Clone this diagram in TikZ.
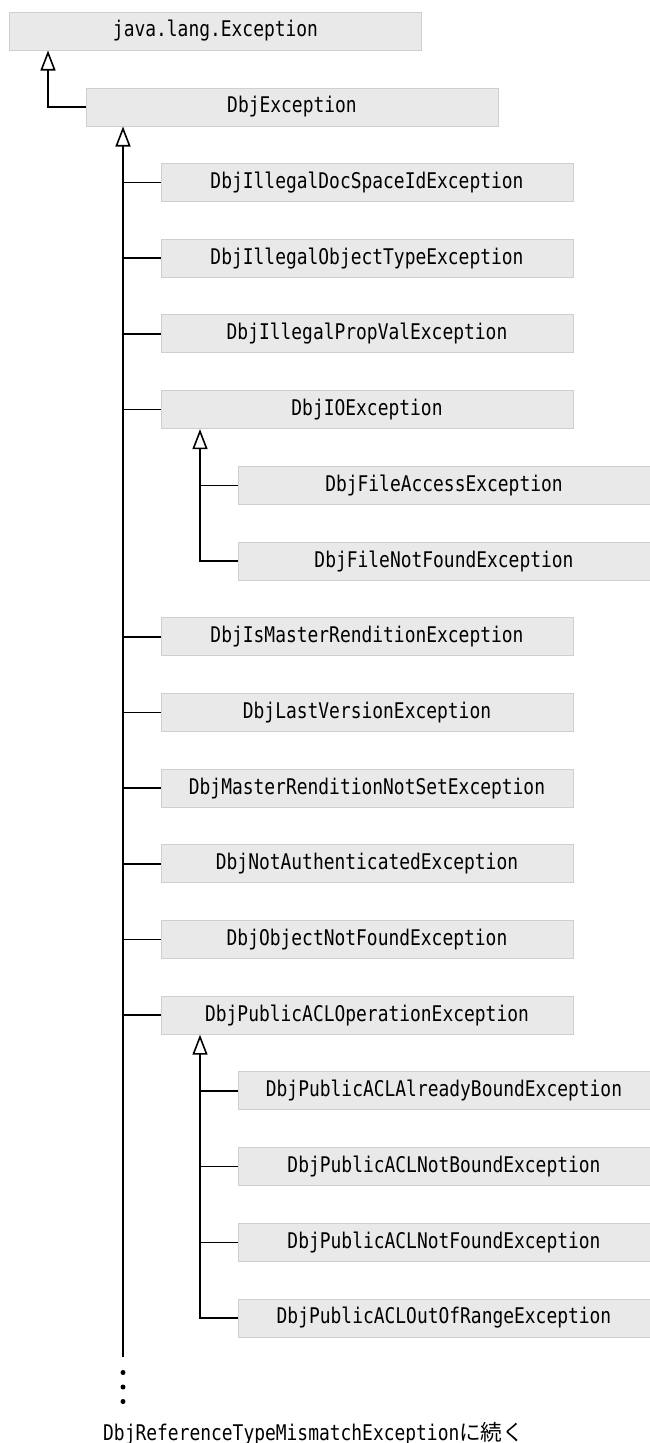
\documentclass[tikz,border=0pt]{standalone}
\usepackage{fontspec}
\newfontfamily\boxfont[FakeStretch=0.83]{DejaVu Sans Mono}
\newfontfamily\jpfont{Noto Sans CJK JP}
\definecolor{boxgray}{HTML}{E9E9E9}
\definecolor{boxline}{HTML}{CFCFCF}
\usetikzlibrary{arrows.meta, positioning}
\tikzset{
	classbox/.style={draw=boxline, fill=boxgray, line width=1pt,
			minimum width=412pt, minimum height=38pt, inner sep=0pt,
			font=\boxfont\fontsize{21.6pt}{24pt}\selectfont}
}
\tikzset{
	inherit/.style={line width=1.6pt, -{Triangle[open, length=20pt, width=15pt]}}
}
\tikzset{
	branch/.style={line width=1.6pt}
}

\begin{document}
\begin{tikzpicture}[x=1pt, y=-1pt]

	\useasboundingbox (0,0) rectangle (649,1443);

	\begin{scope}
		\node[classbox] (jexc) at (215.5,31) {java.lang.Exception};
		\node[classbox] (dbjexc) at (292,107) {DbjException};
	\end{scope}

	\begin{scope}
		\node[classbox] (idsi) at (367,182.5) {DbjIllegalDocSpaceIdException};
		\node[classbox] (iot) at (367,258.2) {DbjIllegalObjectTypeException};
		\node[classbox] (ipv) at (367,333.9) {DbjIllegalPropValException};
		\node[classbox] (ioexc) at (367,409.6) {DbjIOException};
		\node[classbox] (fae) at (444,485.3) {DbjFileAccessException};
		\node[classbox] (fnf) at (444,561) {DbjFileNotFoundException};
		\node[classbox] (imr) at (367,636.7) {DbjIsMasterRenditionException};
		\node[classbox] (lver) at (367,712.4) {DbjLastVersionException};
		\node[classbox] (mrns) at (367,788.1) {DbjMasterRenditionNotSetException};
		\node[classbox] (nauth) at (367,863.8) {DbjNotAuthenticatedException};
		\node[classbox] (onf) at (367,939.5) {DbjObjectNotFoundException};
		\node[classbox] (pacl) at (367,1015.2) {DbjPublicACLOperationException};
		\node[classbox] (paab) at (444,1090.9) {DbjPublicACLAlreadyBoundException};
		\node[classbox] (panb) at (444,1166.6) {DbjPublicACLNotBoundException};
		\node[classbox] (panf) at (444,1242.3) {DbjPublicACLNotFoundException};
		\node[classbox] (paor) at (444,1318) {DbjPublicACLOutOfRangeException};
	\end{scope}

	\coordinate (jx) at (48,0);
	\coordinate (trunkend) at (123,1357);
	\coordinate (iox) at (200,0);
	\coordinate (paclx) at (200,0);

	% inheritance lines
	\draw[inherit] (dbjexc.west) -- (dbjexc.west -| jx) -- (jx |- jexc.south);
	\draw[inherit] (trunkend) -- (trunkend |- dbjexc.south);
	\draw[inherit] (fnf.west) -- (fnf.west -| iox) -- (iox |- ioexc.south);
	\draw[inherit] (paor.west) -- (paor.west -| paclx) -- (paclx |- pacl.south);

	\draw[branch] (trunkend |- idsi.west) -- (idsi.west);
	\draw[branch] (trunkend |- iot.west) -- (iot.west);
	\draw[branch] (trunkend |- ipv.west) -- (ipv.west);
	\draw[branch] (trunkend |- ioexc.west) -- (ioexc.west);
	\draw[branch] (trunkend |- imr.west) -- (imr.west);
	\draw[branch] (trunkend |- lver.west) -- (lver.west);
	\draw[branch] (trunkend |- mrns.west) -- (mrns.west);
	\draw[branch] (trunkend |- nauth.west) -- (nauth.west);
	\draw[branch] (trunkend |- onf.west) -- (onf.west);
	\draw[branch] (trunkend |- pacl.west) -- (pacl.west);
	\draw[branch] (iox |- fae.west) -- (fae.west);
	\draw[branch] (paclx |- paab.west) -- (paab.west);
	\draw[branch] (paclx |- panb.west) -- (panb.west);
	\draw[branch] (paclx |- panf.west) -- (panf.west);

	\fill (123,1372.5) circle (2.5);
	\fill (123,1387) circle (2.5);
	\fill (123,1401.5) circle (2.5);

	\node[anchor=base west, inner sep=0pt, font=\boxfont\fontsize{21.6pt}{24pt}\selectfont] (cont) at (103,1440)
		{DbjReferenceTypeMismatchException{\jpfont に続く}};

\end{tikzpicture}
\end{document}
